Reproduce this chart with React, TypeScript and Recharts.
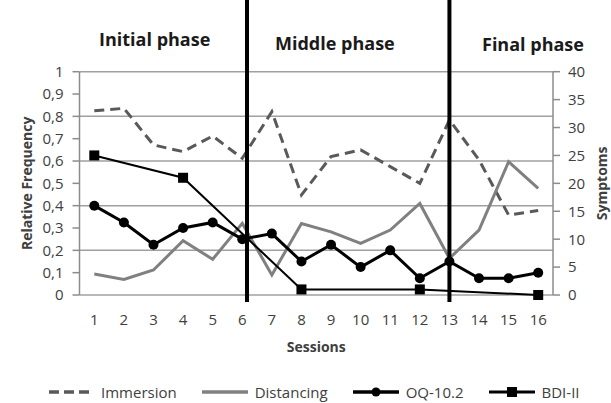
import React from 'react';
import { LineChart, Line, XAxis, YAxis, CartesianGrid, ReferenceLine, Legend } from 'recharts';

const sessions = [1, 2, 3, 4, 5, 6, 7, 8, 9, 10, 11, 12, 13, 14, 15, 16];
const immersion = [0.825, 0.836, 0.672, 0.642, 0.712, 0.612, 0.821, 0.448, 0.62, 0.65, 0.575, 0.5, 0.784, 0.605, 0.358, 0.378];
const distancing = [0.094, 0.07, 0.112, 0.243, 0.16, 0.321, 0.09, 0.32, 0.283, 0.231, 0.291, 0.41, 0.164, 0.291, 0.597, 0.478];
const oq102 = [16, 13, 9, 12, 13, 10, 11, 6, 9, 5, 8, 3, 6, 3, 3, 4];
const bdi2 = [25, null, null, 21, null, null, null, 1, null, null, null, 1, null, null, null, 0];

const seriesNames = ['Immersion', 'Distancing', 'OQ-10.2', 'BDI-II'];
const phaseBoundaries = [6.16, 13];
const phaseLabels = ['Initial phase', 'Middle phase', 'Final phase'];
const leftTicks = [0, 0.1, 0.2, 0.3, 0.4, 0.5, 0.6, 0.7, 0.8, 0.9, 1];
const rightTicks = [0, 5, 10, 15, 20, 25, 30, 35, 40];
const xLabelTicks = sessions;
const xLineTicks = [0.5, 1.5, 2.5, 3.5, 4.5, 5.5, 6.5, 7.5, 8.5, 9.5, 10.5, 11.5, 12.5, 13.5, 14.5, 15.5, 16.5];

const data = sessions.map((s, i) => ({
  session: s,
  [seriesNames[0]]: immersion[i],
  [seriesNames[1]]: distancing[i],
  [seriesNames[2]]: oq102[i],
  [seriesNames[3]]: bdi2[i],
}));

const FONT = '"Open Sans", "Liberation Sans", sans-serif';
const TEXT = '#404040';
const GRID = '#a0a0a0';
const AXIS = '#8c8c8c';

const fmtLeft = (v: number) => (v === 0 ? '0' : v === 1 ? '1' : v.toFixed(1).replace('.', ','));

const PhaseLine = (p: any) => {
  const top = Math.min(p.y1, p.y2);
  const bottom = Math.max(p.y1, p.y2);
  return <line x1={p.x1} x2={p.x2} y1={top - 72} y2={bottom + 7} stroke="#000" strokeWidth={4} />;
};

const SquareDot = (p: any) => {
  if (p.value == null || p.cx == null || p.cy == null) return null;
  return <rect key={p.key} x={p.cx - 5} y={p.cy - 5} width={10} height={10} fill="#000" />;
};

const LegendIcon = ({ k }: { k: string }) => {
  if (k === 'Immersion')
    return (
      <svg width={46} height={16}>
        <line x1={1} x2={45} y1={8} y2={8} stroke="#595959" strokeWidth={3.5} strokeDasharray="10 5" />
      </svg>
    );
  if (k === 'Distancing')
    return (
      <svg width={46} height={16}>
        <line x1={0} x2={46} y1={8} y2={8} stroke="#808080" strokeWidth={3.5} />
      </svg>
    );
  if (k === 'OQ-10.2')
    return (
      <svg width={46} height={16}>
        <line x1={0} x2={46} y1={8} y2={8} stroke="#000" strokeWidth={3.5} />
        <circle cx={23} cy={8} r={4.5} fill="#000" />
      </svg>
    );
  return (
    <svg width={46} height={16}>
      <line x1={0} x2={46} y1={8} y2={8} stroke="#000" strokeWidth={3} />
      <rect x={18} y={3} width={10} height={10} fill="#000" />
    </svg>
  );
};

const LegendContent = (props: any) => {
  const payload = [...(props.payload || [])].sort(
    (a: any, b: any) => seriesNames.indexOf(String(a.value)) - seriesNames.indexOf(String(b.value))
  );
  return (
    <div style={{ display: 'flex', alignItems: 'center', height: 16, paddingLeft: 48, fontFamily: FONT, fontSize: 15, color: TEXT }}>
      {payload.map((e: any) => (
        <div key={e.value} style={{ display: 'flex', alignItems: 'center', marginRight: 25, whiteSpace: 'nowrap', height: 16 }}>
          <LegendIcon k={String(e.value)} />
          <span style={{ marginLeft: 7, lineHeight: '16px' }}>{e.value}</span>
        </div>
      ))}
    </div>
  );
};

const tickStyle = { fontFamily: FONT, fontSize: 15, fill: TEXT };
const titleStyle = { fontFamily: FONT, fontSize: 14, fontWeight: 700, fill: TEXT, textAnchor: 'middle' as const };

export default function App() {
  return (
    <div style={{ position: 'absolute', left: 0, top: 0, width: 611, height: 403, background: '#fff' }}>
      <LineChart width={611} height={403} data={data} margin={{ top: 71.7, right: 0, bottom: 0, left: 0 }}>
        <XAxis
          xAxisId="lines"
          dataKey="session"
          type="number"
          domain={[0.5, 16.5]}
          ticks={xLineTicks}
          tick={false}
          tickSize={6}
          height={0}
          axisLine={{ stroke: AXIS, strokeWidth: 1.5 }}
          tickLine={{ stroke: AXIS, strokeWidth: 1.5 }}
        />
        <XAxis
          xAxisId="cat"
          dataKey="session"
          type="number"
          domain={[0.5, 16.5]}
          ticks={xLabelTicks}
          interval={0}
          axisLine={false}
          tickLine={false}
          tickSize={6}
          tickMargin={13}
          height={92}
          tick={tickStyle}
          label={{ value: 'Sessions', position: 'insideTop', offset: 47, style: titleStyle }}
        />
        <YAxis
          yAxisId="left"
          domain={[0, 1]}
          ticks={leftTicks}
          tickFormatter={fmtLeft}
          width={79.5}
          tickSize={7}
          tickMargin={9}
          tick={tickStyle}
          axisLine={{ stroke: AXIS, strokeWidth: 1.5 }}
          tickLine={{ stroke: AXIS, strokeWidth: 1.5 }}
          label={{ value: 'Relative Frequency', angle: -90, position: 'insideLeft', offset: 27, style: titleStyle }}
        />
        <YAxis
          yAxisId="right"
          orientation="right"
          domain={[0, 40]}
          ticks={rightTicks}
          width={58}
          tickSize={7}
          tickMargin={8}
          tick={tickStyle}
          axisLine={{ stroke: AXIS, strokeWidth: 1.5 }}
          tickLine={{ stroke: AXIS, strokeWidth: 1.5 }}
          label={{ value: 'Symptoms', angle: -90, position: 'insideRight', offset: 9, style: titleStyle }}
        />
        <CartesianGrid xAxisId="cat" yAxisId="left" vertical={false} stroke={GRID} strokeWidth={1.5} />
        <Line
          xAxisId="cat"
          yAxisId="left"
          dataKey="Immersion"
          stroke="#595959"
          strokeWidth={3}
          strokeDasharray="10 6"
          dot={false}
          isAnimationActive={false}
        />
        <Line
          xAxisId="cat"
          yAxisId="left"
          dataKey="Distancing"
          stroke="#808080"
          strokeWidth={3}
          dot={false}
          isAnimationActive={false}
        />
        <Line
          xAxisId="cat"
          yAxisId="right"
          dataKey="OQ-10.2"
          stroke="#000"
          strokeWidth={3}
          dot={{ r: 5, fill: '#000', stroke: '#000', strokeWidth: 0 }}
          isAnimationActive={false}
        />
        <Line
          xAxisId="cat"
          yAxisId="right"
          dataKey="BDI-II"
          stroke="#000"
          strokeWidth={2}
          connectNulls
          dot={SquareDot}
          isAnimationActive={false}
        />
        {phaseBoundaries.map((b) => (
          <ReferenceLine key={b} xAxisId="cat" yAxisId="left" x={b} shape={PhaseLine} />
        ))}
        <Legend
          verticalAlign="bottom"
          content={LegendContent}
          wrapperStyle={{ left: 0, bottom: 3, width: 611, height: 16 }}
        />
      </LineChart>
      <svg width={611} height={60} style={{ position: 'absolute', left: 0, top: 0, pointerEvents: 'none' }}>
        <text x={99} y={46} fontFamily={FONT} fontSize={18} fontWeight={700} fill="#1a1a1a">{phaseLabels[0]}</text>
        <text x={275} y={50} fontFamily={FONT} fontSize={18} fontWeight={700} fill="#1a1a1a">{phaseLabels[1]}</text>
        <text x={482} y={50.5} fontFamily={FONT} fontSize={18} fontWeight={700} fill="#1a1a1a">{phaseLabels[2]}</text>
      </svg>
    </div>
  );
}
